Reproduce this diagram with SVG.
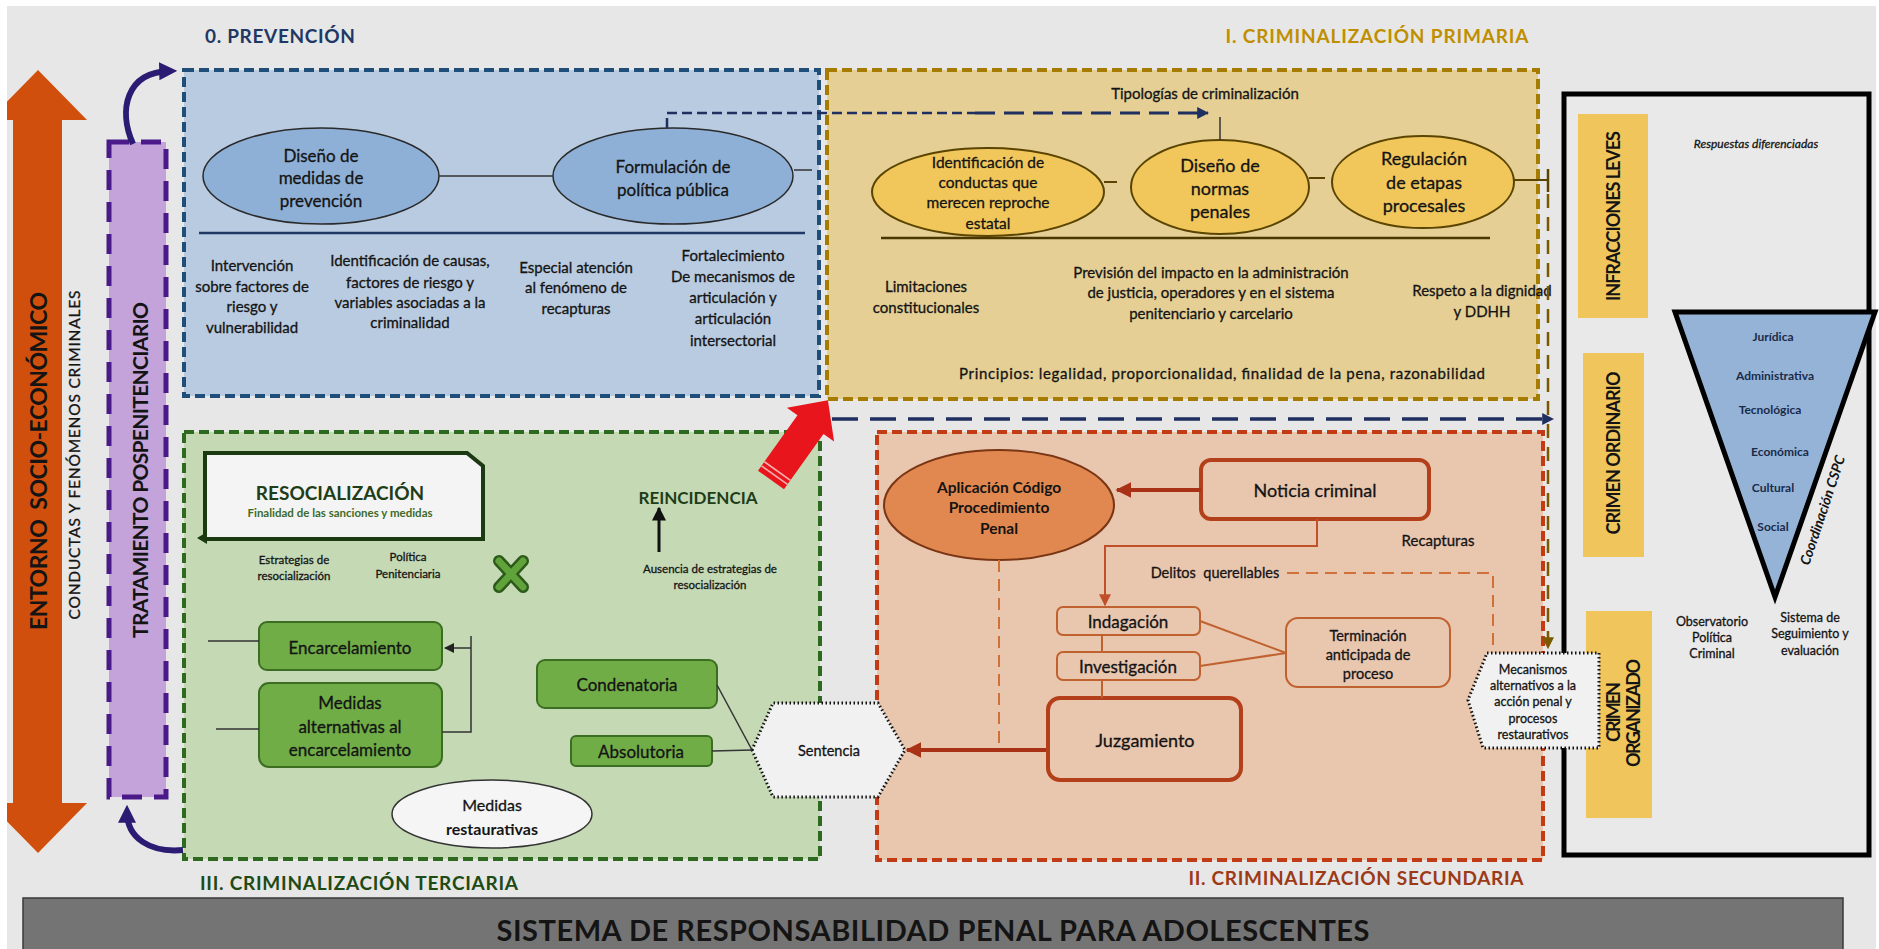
<svg xmlns="http://www.w3.org/2000/svg" width="1879" height="949" viewBox="0 0 1879 949">
<defs>
<style>
text{font-family:Lato,'Liberation Sans',sans-serif;fill:#141414;stroke:#141414;stroke-width:0.3;dominant-baseline:central;text-anchor:middle}
.b{font-weight:bold;stroke:none}
.i{font-style:italic}
.s11{font-size:11.5px}.s12{font-size:12.5px}.s14{font-size:14.5px}.s15{font-size:15px}.s16{font-size:16px}.s17{font-size:17px}.s18{font-size:18px}.s19{font-size:19px}
.ell-blue{fill:#8fb0d6;stroke:#2a2a2a;stroke-width:1.5}
.ell-gold{fill:#f1c75b;stroke:#5a4400;stroke-width:2}
.gbox{fill:#70ad47;stroke:#3b6e22;stroke-width:2}
.obox{fill:#e9c6ae;stroke:#c0622f;stroke-width:2}
.obox2{fill:#e9c6ae;stroke:#b3401a;stroke-width:4}
.bar{fill:#f0c65c}
.dotted{fill:#f1f1f1;stroke:#111;stroke-width:3;stroke-dasharray:1.5 2.5}
.ln{fill:none;stroke:#333;stroke-width:1.5}
</style>
<marker id="mIndigo" markerUnits="userSpaceOnUse" markerWidth="18" markerHeight="18" viewBox="0 0 10 10" refX="6" refY="5" orient="auto"><path d="M0,0L10,5L0,10z" fill="#2b1b73"/></marker>
<marker id="mNavy" markerUnits="userSpaceOnUse" markerWidth="12" markerHeight="12" viewBox="0 0 10 10" refX="9" refY="5" orient="auto"><path d="M0,0L10,5L0,10z" fill="#1f2f5f"/></marker>
<marker id="mGold" markerUnits="userSpaceOnUse" markerWidth="12" markerHeight="12" viewBox="0 0 10 10" refX="9" refY="5" orient="auto"><path d="M0,0L10,5L0,10z" fill="#7a5a00"/></marker>
<marker id="mRed" markerUnits="userSpaceOnUse" markerWidth="16" markerHeight="16" viewBox="0 0 10 10" refX="9" refY="5" orient="auto"><path d="M0,0L10,5L0,10z" fill="#a93216"/></marker>
<marker id="mOr" markerUnits="userSpaceOnUse" markerWidth="12" markerHeight="12" viewBox="0 0 10 10" refX="9" refY="5" orient="auto"><path d="M0,0L10,5L0,10z" fill="#c0502a"/></marker>
<marker id="mBlk" markerUnits="userSpaceOnUse" markerWidth="14" markerHeight="14" viewBox="0 0 10 10" refX="9" refY="5" orient="auto"><path d="M0,0L10,5L0,10z" fill="#111"/></marker>
<marker id="mBlkS" markerUnits="userSpaceOnUse" markerWidth="10" markerHeight="10" viewBox="0 0 10 10" refX="9" refY="5" orient="auto"><path d="M0,0L10,5L0,10z" fill="#222"/></marker>
</defs>

<rect x="0" y="0" width="1879" height="949" fill="#ffffff"/>
<rect x="7" y="6" width="1869" height="943" fill="#e7e7e7"/>

<!-- titles -->
<g id="titles">
<text class="b s19" x="280" y="35" style="fill:#1f3864" textLength="150">0. PREVENCIÓN</text>
<text class="b s19" x="1377" y="35" style="fill:#bf8f00" textLength="303">I. CRIMINALIZACIÓN PRIMARIA</text>
<text class="b s19" x="359" y="882" style="fill:#1e4a14" textLength="318">III. CRIMINALIZACIÓN TERCIARIA</text>
<text class="b s19" x="1356" y="877" style="fill:#9c3a16" textLength="335">II. CRIMINALIZACIÓN SECUNDARIA</text>
</g>

<!-- orange double arrow -->
<g id="entorno">
<polygon points="38,70 87,120 62,120 62,803 87,803 38,853 -11,803 13,803 13,120 -11,120" fill="#d14f0c"/>
<rect x="0" y="0" width="7" height="949" fill="#ffffff"/>
<text class="b" style="font-size:23px" transform="translate(38,461) rotate(-90)" textLength="338" xml:space="preserve">ENTORNO  SOCIO-ECONÓMICO</text>
<text style="font-size:15.5px" transform="translate(74,455) rotate(-90)" textLength="329">CONDUCTAS Y FENÓMENOS CRIMINALES</text>
</g>

<!-- purple box -->
<g id="pospenitenciario">
<rect x="109" y="142" width="57" height="655" fill="#c4a3da" stroke="#4a1a8a" stroke-width="5" stroke-dasharray="20 12"/>
<text class="b" style="font-size:21px" transform="translate(139,470) rotate(-90)" textLength="336">TRATAMIENTO POSPENITENCIARIO</text>
</g>

<!-- prevención box -->
<g id="prevencion">
<rect x="184" y="70" width="635" height="326" fill="#b9cbe0" stroke="#1f4e79" stroke-width="4" stroke-dasharray="10 5"/>
<line x1="199" y1="233" x2="805" y2="233" stroke="#1f3864" stroke-width="2.5"/>
</g>
<g id="diseno-medidas">
<ellipse class="ell-blue" cx="321" cy="176" rx="118" ry="48"/>
<text class="s17"><tspan x="321" y="155">Diseño de</tspan><tspan x="321" y="177">medidas de</tspan><tspan x="321" y="200">prevención</tspan></text>
</g>
<g id="formulacion">
<ellipse class="ell-blue" cx="673" cy="176" rx="120" ry="48"/>
<text class="s17"><tspan x="673" y="166">Formulación de</tspan><tspan x="673" y="189">política pública</tspan></text>
</g>
<g id="prev-textos">
<text class="s15"><tspan x="252" y="265">Intervención</tspan><tspan x="252" y="286">sobre factores de</tspan><tspan x="252" y="306">riesgo y</tspan><tspan x="252" y="327">vulnerabilidad</tspan></text>
<text class="s15"><tspan x="410" y="260">Identificación de causas,</tspan><tspan x="410" y="282">factores de riesgo y</tspan><tspan x="410" y="302">variables asociadas a la</tspan><tspan x="410" y="322">criminalidad</tspan></text>
<text class="s15"><tspan x="576" y="267">Especial atención</tspan><tspan x="576" y="287">al fenómeno de</tspan><tspan x="576" y="308">recapturas</tspan></text>
<text class="s15"><tspan x="733" y="255">Fortalecimiento</tspan><tspan x="733" y="276">De mecanismos de</tspan><tspan x="733" y="297">articulación y</tspan><tspan x="733" y="318">articulación</tspan><tspan x="733" y="340">intersectorial</tspan></text>
</g>

<!-- criminalización primaria -->
<g id="primaria">
<rect x="827" y="70" width="711" height="329" fill="#e5cf94" stroke="#a67c00" stroke-width="4" stroke-dasharray="10 5"/>
<line x1="881" y1="238" x2="1490" y2="238" stroke="#4a3800" stroke-width="2.5"/>
<text class="s15" x="1205" y="93">Tipologías de criminalización</text>
<text class="s15"><tspan x="926" y="286">Limitaciones</tspan><tspan x="926" y="307">constitucionales</tspan></text>
<text class="s15"><tspan x="1211" y="272">Previsión del impacto en la administración</tspan><tspan x="1211" y="292">de justicia, operadores y en el sistema</tspan><tspan x="1211" y="313">penitenciario y carcelario</tspan></text>
<text class="s15"><tspan x="1482" y="290">Respeto a la dignidad</tspan><tspan x="1482" y="311">y DDHH</tspan></text>
<text class="s15" x="1222" y="373" textLength="526">Principios: legalidad, proporcionalidad, finalidad de la pena, razonabilidad</text>
</g>
<g id="identificacion">
<ellipse class="ell-gold" cx="988" cy="192" rx="116" ry="44"/>
<text style="font-size:15.5px"><tspan x="988" y="162">Identificación de</tspan><tspan x="988" y="182">conductas que</tspan><tspan x="988" y="202">merecen reproche</tspan><tspan x="988" y="223">estatal</tspan></text>
</g>
<g id="diseno-normas">
<ellipse class="ell-gold" cx="1220" cy="187" rx="89" ry="47"/>
<text class="s18"><tspan x="1220" y="165">Diseño de</tspan><tspan x="1220" y="188">normas</tspan><tspan x="1220" y="211">penales</tspan></text>
</g>
<g id="regulacion">
<ellipse class="ell-gold" cx="1423" cy="182" rx="91" ry="46"/>
<text class="s18"><tspan x="1424" y="158">Regulación</tspan><tspan x="1424" y="182">de etapas</tspan><tspan x="1424" y="205">procesales</tspan></text>
</g>

<!-- terciaria -->
<g id="terciaria">
<rect x="184" y="432" width="636" height="427" fill="#c4d9b4" stroke="#2d6a1f" stroke-width="4" stroke-dasharray="10 5"/>
</g>
<g id="resocializacion">
<polygon points="205,453 467,453 483,466 483,539 205,539" fill="#f4f4f4" stroke="#1b3a12" stroke-width="4"/>
<polygon points="197,538 207,532 207,544" fill="#1b3a12"/>
<text class="b s19" x="340" y="492" style="fill:#1e3d18">RESOCIALIZACIÓN</text>
<text class="b s11" x="340" y="512" style="fill:#3d6b2a">Finalidad de las sanciones y medidas</text>
</g>
<g id="estrategias">
<text class="s11"><tspan x="294" y="559">Estrategias de</tspan><tspan x="294" y="575">resocialización</tspan></text>
<text class="s11"><tspan x="408" y="556">Política</tspan><tspan x="408" y="573">Penitenciaria</tspan></text>
</g>
<g id="cruz">
<path d="M499,561L523,587M523,561L499,587" stroke="#2d5a1a" stroke-width="12" stroke-linecap="round"/>
<path d="M499,561L523,587M523,561L499,587" stroke="#5fa33a" stroke-width="7" stroke-linecap="round"/>
</g>
<g id="reincidencia">
<text class="b s17" x="698" y="497" style="fill:#1e3d18">REINCIDENCIA</text>
<text class="s11"><tspan x="710" y="568">Ausencia de estrategias de</tspan><tspan x="710" y="584">resocialización</tspan></text>
</g>
<g id="encarcelamiento">
<rect class="gbox" x="259" y="622" width="183" height="48" rx="8"/>
<text class="s17" x="350" y="647">Encarcelamiento</text>
</g>
<g id="medidas-alternativas">
<rect class="gbox" x="259" y="683" width="183" height="84" rx="10"/>
<text class="s17"><tspan x="350" y="702">Medidas</tspan><tspan x="350" y="726">alternativas al</tspan><tspan x="350" y="749">encarcelamiento</tspan></text>
</g>
<g id="condenatoria">
<rect class="gbox" x="537" y="660" width="180" height="48" rx="8"/>
<text class="s17" x="627" y="684">Condenatoria</text>
</g>
<g id="absolutoria">
<rect class="gbox" x="571" y="736" width="141" height="30" rx="5"/>
<text class="s17" x="641" y="751">Absolutoria</text>
</g>
<g id="medidas-restaurativas">
<ellipse cx="492" cy="814" rx="100" ry="34" fill="#f5f5f5" stroke="#333" stroke-width="1.5"/>
<text class="s16" x="492" y="804">Medidas</text>
<text class="s16 b" x="492" y="828">restaurativas</text>
</g>

<!-- secundaria -->
<g id="secundaria">
<rect x="877" y="432" width="666" height="428" fill="#e9c6ae" stroke="#c23b14" stroke-width="4" stroke-dasharray="10 5"/>
<text class="s15" x="1438" y="540">Recapturas</text>
<text class="s14" x="1215" y="572" xml:space="preserve">Delitos  querellables</text>
</g>
<g id="aplicacion">
<ellipse cx="999" cy="505" rx="115" ry="55" fill="#e0884f" stroke="#7a3515" stroke-width="2"/>
<text class="b" style="font-size:15.5px"><tspan x="999" y="487">Aplicación Código</tspan><tspan x="999" y="507">Procedimiento</tspan><tspan x="999" y="528">Penal</tspan></text>
</g>
<g id="noticia">
<rect class="obox2" x="1201" y="460" width="228" height="59" rx="10"/>
<text class="s18" x="1315" y="490">Noticia criminal</text>
</g>
<g id="indagacion">
<rect class="obox" x="1057" y="607" width="143" height="28" rx="6"/>
<text class="s17" x="1128" y="621">Indagación</text>
</g>
<g id="investigacion">
<rect class="obox" x="1057" y="652" width="143" height="28" rx="6"/>
<text class="s17" x="1128" y="666">Investigación</text>
</g>
<g id="terminacion">
<rect class="obox" x="1286" y="618" width="164" height="69" rx="12"/>
<text class="s14"><tspan x="1368" y="635">Terminación</tspan><tspan x="1368" y="654">anticipada de</tspan><tspan x="1368" y="673">proceso</tspan></text>
</g>
<g id="juzgamiento">
<rect class="obox2" x="1048" y="698" width="193" height="82" rx="12"/>
<text class="s18" x="1145" y="740">Juzgamiento</text>
</g>

<!-- right panel -->
<g id="panel-derecho">
<rect x="1564" y="94" width="305" height="761" fill="#e9e9e9" stroke="#000" stroke-width="5"/>
<text class="i" style="font-size:12px" x="1756" y="143">Respuestas diferenciadas</text>
<text class="s12"><tspan x="1712" y="621">Observatorio</tspan><tspan x="1712" y="637">Política</tspan><tspan x="1712" y="653">Criminal</tspan></text>
<text class="s12"><tspan x="1810" y="617">Sistema de</tspan><tspan x="1810" y="633">Seguimiento y</tspan><tspan x="1810" y="650">evaluación</tspan></text>
</g>
<g id="infracciones-leves">
<rect class="bar" x="1578" y="114" width="70" height="204"/>
<text class="b s18" transform="translate(1613,216) rotate(-90)" textLength="170">INFRACCIONES LEVES</text>
</g>
<g id="crimen-ordinario">
<rect class="bar" x="1583" y="353" width="61" height="204"/>
<text class="b s18" transform="translate(1613,453) rotate(-90)" textLength="163">CRIMEN ORDINARIO</text>
</g>
<g id="crimen-organizado">
<rect class="bar" x="1586" y="611" width="66" height="207"/>
<text class="b s18" transform="translate(1613,712) rotate(-90)" textLength="60">CRIMEN</text>
<text class="b s18" transform="translate(1633,713) rotate(-90)" textLength="108">ORGANIZADO</text>
</g>
<g id="coordinacion">
<polygon points="1675,312 1875,312 1775,597" fill="#95b3d7" stroke="#000" stroke-width="5" stroke-linejoin="miter"/>
<text class="b" style="font-size:12px;fill:#1a2b4a"><tspan x="1773" y="336">Jurídica</tspan><tspan x="1775" y="375">Administrativa</tspan><tspan x="1770" y="409">Tecnológica</tspan><tspan x="1780" y="451">Económica</tspan><tspan x="1773" y="487">Cultural</tspan><tspan x="1773" y="526">Social</tspan></text>
<text class="b i" style="font-size:14px" transform="translate(1822,510) rotate(-71.5)">Coordinación CSPC</text>
</g>

<!-- hexagons -->
<g id="mecanismos">
<polygon class="dotted" points="1487,653 1599,653 1599,748 1483,748 1468,700"/>
<text class="s12"><tspan x="1533" y="669">Mecanismos</tspan><tspan x="1533" y="685">alternativos a la</tspan><tspan x="1533" y="701">acción penal y</tspan><tspan x="1533" y="718">procesos</tspan><tspan x="1533" y="734">restaurativos</tspan></text>
</g>
<g id="sentencia">
<polygon class="dotted" points="752,750 773,703 878,703 905,750 878,797 773,797"/>
<text class="s14" x="829" y="750">Sentencia</text>
</g>

<!-- connectors -->
<g id="connectors">
<path d="M133,144 C118,110 126,72 170,71" fill="none" stroke="#2b1b73" stroke-width="6" marker-end="url(#mIndigo)"/>
<path d="M183,850 C150,853 127,838 127,812" fill="none" stroke="#2b1b73" stroke-width="6" marker-end="url(#mIndigo)"/>
<line x1="439" y1="176" x2="553" y2="176" class="ln"/>
<line x1="794" y1="170" x2="812" y2="170" class="ln"/>
<path d="M667,128 L667,113 L975,113" fill="none" stroke="#1f2f5f" stroke-width="2.5" stroke-dasharray="10 5"/>
<path d="M975,113 L1208,113" fill="none" stroke="#1f2f5f" stroke-width="3" stroke-dasharray="20 9" marker-end="url(#mNavy)"/>
<line x1="1220" y1="117" x2="1220" y2="140" class="ln"/>
<line x1="1104" y1="182" x2="1117" y2="182" stroke="#5a4400" stroke-width="2"/>
<line x1="1309" y1="178" x2="1325" y2="178" stroke="#5a4400" stroke-width="2"/>
<line x1="1514" y1="180" x2="1548" y2="180" stroke="#5a4400" stroke-width="2"/>
<line x1="1548" y1="169" x2="1548" y2="192" stroke="#5a4400" stroke-width="2.5"/>
<path d="M1548,194 L1548,648" fill="none" stroke="#7a5a00" stroke-width="2.5" stroke-dasharray="14 9" marker-end="url(#mGold)"/>
<path d="M832,419 L1553,419" fill="none" stroke="#1f2f5f" stroke-width="3.5" stroke-dasharray="26 12" marker-end="url(#mNavy)"/>
<line x1="208" y1="641" x2="259" y2="641" class="ln"/>
<line x1="216" y1="729" x2="259" y2="729" class="ln"/>
<path d="M442,732 L471,732 L471,636" class="ln"/>
<path d="M471,648 L445,648" class="ln" marker-end="url(#mBlkS)"/>
<path d="M659,552 L659,508" fill="none" stroke="#111" stroke-width="3" marker-end="url(#mBlk)"/>
<line x1="717" y1="685" x2="752" y2="750" class="ln"/>
<line x1="712" y1="751" x2="752" y2="750" class="ln"/>
<path d="M1201,490 L1117,490" fill="none" stroke="#a93216" stroke-width="4" marker-end="url(#mRed)"/>
<path d="M1317,519 L1317,546 L1105,546 L1105,605" fill="none" stroke="#c0502a" stroke-width="2" marker-end="url(#mOr)"/>
<line x1="1102" y1="635" x2="1102" y2="652" stroke="#c0622f" stroke-width="2"/>
<line x1="1102" y1="680" x2="1102" y2="698" stroke="#c0622f" stroke-width="2"/>
<line x1="1200" y1="621" x2="1286" y2="653" stroke="#c0622f" stroke-width="2"/>
<line x1="1200" y1="666" x2="1286" y2="653" stroke="#c0622f" stroke-width="2"/>
<path d="M1287,573 L1493,573 L1493,647" fill="none" stroke="#d2703a" stroke-width="2" stroke-dasharray="12 7"/>
<path d="M999,560 L999,750" fill="none" stroke="#d2703a" stroke-width="2" stroke-dasharray="12 7"/>
<path d="M1046,750 L907,750" fill="none" stroke="#a93216" stroke-width="4" marker-end="url(#mRed)"/>
<g transform="translate(771,480) rotate(-54.5)">
<polygon points="0,-16 68,-16 68,-29 98,0 68,29 68,16 0,16" fill="#e8161c"/>
<line x1="6" y1="-16" x2="6" y2="16" stroke="#f7b0b0" stroke-width="1.6"/>
<line x1="11" y1="-16" x2="11" y2="16" stroke="#f7b0b0" stroke-width="1.6"/>
</g>
</g>

<!-- banner -->
<g id="sistema">
<rect x="23" y="898" width="1820" height="60" fill="#747474" stroke="#3a3a3a" stroke-width="1.5"/>
<text class="b" style="font-size:29px" x="933" y="929" textLength="873">SISTEMA DE RESPONSABILIDAD PENAL PARA ADOLESCENTES</text>
</g>
</svg>
